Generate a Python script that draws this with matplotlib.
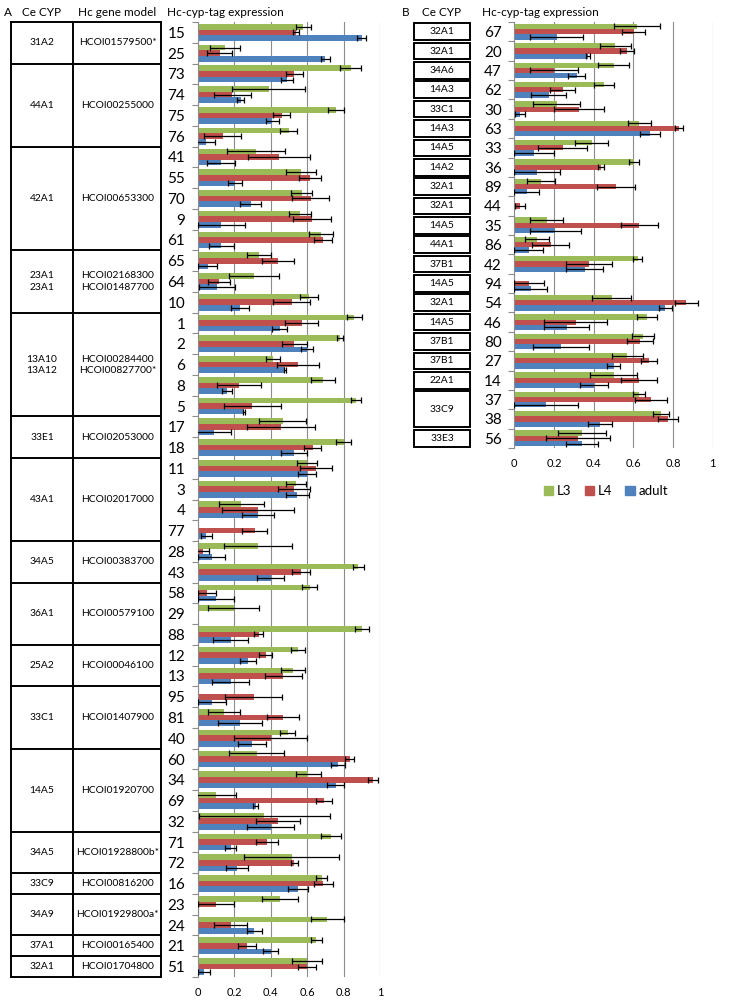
import numpy as np
import matplotlib
matplotlib.use("Agg")
import matplotlib.pyplot as plt
from matplotlib import transforms
from matplotlib.patches import Rectangle, Patch

plt.rcParams['font.family'] = ['Lato', 'DejaVu Sans']

# ---- panel A data ----
tags_a = [15, 25, 73, 74, 75, 76, 41, 55, 70, 9, 61, 65, 64, 10, 1, 2, 6, 8, 5, 17, 18,
          11, 3, 4, 77, 28, 43, 58, 29, 88, 12, 13, 95, 81, 40, 60, 34, 69, 32, 71, 72,
          16, 23, 24, 21, 51]
l3_a = [0.58, 0.15, 0.84, 0.39, 0.76, 0.50, 0.32, 0.567, 0.57, 0.56, 0.675, 0.338, 0.31,
        0.61, 0.86, 0.78, 0.415, 0.687, 0.87, 0.466, 0.80, 0.60, 0.537, 0.24, 0.0, 0.33,
        0.88, 0.614, 0.197, 0.90, 0.55, 0.523, 0.0, 0.144, 0.495, 0.323, 0.607, 0.10,
        0.366, 0.73, 0.515, 0.68, 0.45, 0.71, 0.65, 0.60]
l3_err_a = [0.04, 0.08, 0.057, 0.2, 0.043, 0.046, 0.16, 0.084, 0.056, 0.061, 0.065, 0.066,
            0.136, 0.048, 0.04, 0.015, 0.038, 0.068, 0.027, 0.128, 0.043, 0.055, 0.055,
            0.122, 0.0, 0.186, 0.03, 0.04, 0.14, 0.038, 0.037, 0.066, 0.0, 0.087, 0.041,
            0.152, 0.07, 0.11, 0.357, 0.055, 0.26, 0.03, 0.1, 0.09, 0.03, 0.08]
l4_a = [0.54, 0.12, 0.53, 0.19, 0.46, 0.137, 0.446, 0.616, 0.62, 0.627, 0.686, 0.44, 0.115,
        0.515, 0.57, 0.53, 0.55, 0.228, 0.30, 0.459, 0.63, 0.647, 0.53, 0.33, 0.313, 0.03,
        0.567, 0.05, 0.0, 0.335, 0.373, 0.47, 0.307, 0.47, 0.40, 0.834, 0.96, 0.693, 0.44,
        0.38, 0.53, 0.69, 0.1, 0.18, 0.27, 0.60]
l4_err_a = [0.015, 0.07, 0.048, 0.10, 0.048, 0.10, 0.17, 0.061, 0.10, 0.106, 0.05, 0.09,
            0.06, 0.1, 0.09, 0.07, 0.113, 0.12, 0.155, 0.186, 0.046, 0.087, 0.087, 0.197,
            0.068, 0.032, 0.05, 0.05, 0.0, 0.025, 0.036, 0.10, 0.157, 0.088, 0.20, 0.024,
            0.027, 0.042, 0.12, 0.06, 0.02, 0.05, 0.1, 0.09, 0.05, 0.05]
adult_a = [0.90, 0.70, 0.49, 0.235, 0.41, 0.046, 0.128, 0.205, 0.29, 0.13, 0.13, 0.055,
           0.106, 0.232, 0.45, 0.60, 0.48, 0.16, 0.254, 0.09, 0.53, 0.60, 0.547, 0.33,
           0.046, 0.077, 0.40, 0.10, 0.0, 0.18, 0.276, 0.18, 0.077, 0.232, 0.30, 0.77,
           0.757, 0.318, 0.40, 0.18, 0.215, 0.55, 0.0, 0.31, 0.40, 0.035]
adult_err_a = [0.025, 0.025, 0.033, 0.02, 0.038, 0.05, 0.075, 0.038, 0.058, 0.13, 0.068,
               0.053, 0.10, 0.047, 0.04, 0.035, 0.006, 0.026, 0.005, 0.094, 0.072, 0.048,
               0.062, 0.088, 0.03, 0.075, 0.076, 0.097, 0.0, 0.095, 0.044, 0.099, 0.076,
               0.12, 0.077, 0.038, 0.045, 0.015, 0.13, 0.03, 0.06, 0.055, 0.0, 0.04, 0.04,
               0.035]

cyp_a = ['31A2', '44A1', '42A1', '23A1\n23A1', '13A10\n13A12', '33E1', '43A1', '34A5',
         '36A1', '25A2', '33C1', '14A5', '34A5', '33C9', '34A9', '37A1', '32A1']
gene_a = ['HCOI01579500*', 'HCOI00255000', 'HCOI00653300', 'HCOI02168300\nHCOI01487700',
          'HCOI00284400\nHCOI00827700*', 'HCOI02053000', 'HCOI02017000', 'HCOI00383700',
          'HCOI00579100', 'HCOI00046100', 'HCOI01407900', 'HCOI01920700',
          'HCOI01928800b*', 'HCOI00816200', 'HCOI01929800a*', 'HCOI00165400',
          'HCOI01704800']
group_size_a = [2, 4, 5, 3, 5, 2, 4, 2, 3, 2, 3, 4, 2, 1, 2, 1, 1]

# ---- panel B data ----
tags_b = [67, 20, 47, 62, 30, 63, 33, 36, 89, 44, 35, 86, 42, 94, 54, 46, 80, 27, 14, 37,
          38, 56]
l3_b = [0.617, 0.51, 0.50, 0.45, 0.213, 0.63, 0.39, 0.603, 0.134, 0.0, 0.163, 0.116, 0.622,
        0.0, 0.49, 0.67, 0.65, 0.57, 0.50, 0.63, 0.74, 0.34]
l3_err_b = [0.116, 0.08, 0.08, 0.05, 0.12, 0.057, 0.083, 0.027, 0.072, 0.0, 0.084, 0.06,
            0.024, 0.0, 0.097, 0.05, 0.055, 0.08, 0.12, 0.03, 0.04, 0.12]
l4_b = [0.603, 0.57, 0.20, 0.244, 0.326, 0.832, 0.244, 0.437, 0.513, 0.029, 0.63, 0.183,
        0.376, 0.076, 0.866, 0.31, 0.634, 0.68, 0.63, 0.69, 0.775, 0.32]
l4_err_b = [0.058, 0.035, 0.12, 0.064, 0.124, 0.02, 0.124, 0.017, 0.097, 0.027, 0.092,
            0.092, 0.114, 0.076, 0.058, 0.158, 0.065, 0.04, 0.09, 0.08, 0.05, 0.16]
adult_b = [0.213, 0.37, 0.314, 0.173, 0.028, 0.684, 0.1, 0.116, 0.062, 0.0, 0.207, 0.072,
           0.355, 0.082, 0.76, 0.264, 0.234, 0.50, 0.40, 0.16, 0.43, 0.34]
adult_err_b = [0.133, 0.01, 0.042, 0.087, 0.025, 0.05, 0.1, 0.115, 0.063, 0.0, 0.13, 0.073,
               0.093, 0.083, 0.033, 0.113, 0.14, 0.035, 0.07, 0.16, 0.06, 0.08]

cyp_b = ['32A1', '32A1', '34A6', '14A3', '33C1', '14A3', '14A5', '14A2', '32A1', '32A1',
         '14A5', '44A1', '37B1', '14A5', '32A1', '14A5', '37B1', '37B1', '22A1', '33C9',
         '33E3']
group_size_b = [1] * 19 + [2, 1]

GREEN = '#9BBB59'
RED = '#C0504D'
BLUE = '#4F81BD'
GRID = '#8c8c8c'

W, H = 731, 1001
fig = plt.figure(figsize=(W / 100, H / 100), dpi=100)


def px_axes(x0, y0, x1, y1):
    return fig.add_axes([x0 / W, 1 - y1 / H, (x1 - x0) / W, (y1 - y0) / H])


# pixel coordinates measured from the top-left corner of the figure
pix = transforms.Affine2D().scale(1 / W, -1 / H).translate(0, 1) + fig.transFigure


def draw_panel(ax, tags, series):
    n = len(tags)
    pos = np.arange(n)
    h = 0.27
    for k, (vals, errs, color) in enumerate(series):
        vals = np.asarray(vals)
        errs = np.asarray(errs)
        y = pos + (k - 1) * h
        ax.barh(y, vals, height=h, color=color, zorder=2)
        m = vals > 0
        ax.errorbar(vals[m], y[m], xerr=errs[m], fmt='none', ecolor='black',
                    elinewidth=0.9, capsize=2.2, capthick=0.9, zorder=3)
    ax.set_ylim(n - 0.5, -0.5)
    ax.set_xlim(0, 1)
    ax.set_xticks(np.arange(0, 1.01, 0.2))
    ax.set_xticklabels(['0', '0.2', '0.4', '0.6', '0.8', '1'])
    ax.xaxis.grid(True, color=GRID, linewidth=0.8, zorder=0)
    ax.set_axisbelow(True)
    ax.set_yticks(pos)
    ax.set_yticklabels([str(t) for t in tags], fontsize=11)
    ax.set_yticks(np.arange(-0.5, n, 1), minor=True)
    ax.tick_params(axis='y', which='major', length=0, pad=9)
    ax.tick_params(axis='y', which='minor', length=4, color=GRID, width=0.8)
    ax.tick_params(axis='x', length=0, pad=7, labelsize=8)
    for s in ['top', 'right', 'bottom']:
        ax.spines[s].set_visible(False)
    ax.spines['left'].set_color(GRID)
    ax.spines['left'].set_linewidth(0.8)


axA = px_axes(197.7, 22, 380, 977)
draw_panel(axA, tags_a, [(l3_a, l3_err_a, GREEN), (l4_a, l4_err_a, RED),
                         (adult_a, adult_err_a, BLUE)])

axB = px_axes(514.3, 22, 712.7, 448)
draw_panel(axB, tags_b, [(l3_b, l3_err_b, GREEN), (l4_b, l4_err_b, RED),
                         (adult_b, adult_err_b, BLUE)])

# ---- table A ----
trA = transforms.blended_transform_factory(pix, axA.transData)
lw = 1.4
left, mid, right = 10.5, 73.3, 161
top, bottom = -0.5, len(tags_a) - 0.5
for x in (left, mid, right):
    axA.plot([x, x], [top, bottom], color='black', lw=lw, transform=trA, clip_on=False)
edges = np.concatenate([[0], np.cumsum(group_size_a)]) - 0.5
for e in edges:
    axA.plot([left, right], [e, e], color='black', lw=lw, transform=trA, clip_on=False,
             solid_capstyle='projecting')
for i in range(len(cyp_a)):
    yc = (edges[i] + edges[i + 1]) / 2
    axA.text((left + mid) / 2, yc, cyp_a[i], transform=trA, ha='center', va='center',
             fontsize=7.4, linespacing=1.3)
    axA.text((mid + right) / 2 + 0.5, yc, gene_a[i], transform=trA, ha='center',
             va='center', fontsize=7.4, linespacing=1.3)

# ---- table B ----
trB = transforms.blended_transform_factory(pix, axB.transData)
edges_b = np.concatenate([[0], np.cumsum(group_size_b)]) - 0.5
gap = 0.07
for i in range(len(cyp_b)):
    y0 = edges_b[i] + gap
    y1 = edges_b[i + 1] - gap
    axB.add_patch(Rectangle((414, y0), 56, y1 - y0, transform=trB, fill=False,
                            edgecolor='black', lw=lw, clip_on=False))
    axB.text(442, (y0 + y1) / 2, cyp_b[i], transform=trB, ha='center', va='center',
             fontsize=7.4)

# ---- headers ----
fig.text(4 / W, 1 - 12 / H, 'A', fontsize=8.5, va='center')
fig.text(42 / W, 1 - 12 / H, 'Ce CYP', fontsize=8.5, va='center', ha='center')
fig.text(117 / W, 1 - 12 / H, 'Hc gene model', fontsize=8.5, va='center', ha='center')
fig.text(167 / W, 1 - 12 / H, 'Hc-cyp-tag expression', fontsize=8.5, va='center')
fig.text(402 / W, 1 - 12 / H, 'B', fontsize=8.5, va='center')
fig.text(441 / W, 1 - 12 / H, 'Ce CYP', fontsize=8.5, va='center', ha='center')
fig.text(482 / W, 1 - 12 / H, 'Hc-cyp-tag expression', fontsize=8.5, va='center')

handles = [Patch(color=GREEN), Patch(color=RED), Patch(color=BLUE)]
fig.legend(handles, ['L3', 'L4', 'adult'], loc='center', ncol=3, frameon=False,
           bbox_to_anchor=(606 / W, 1 - 491 / H), handlelength=0.7, handleheight=0.7,
           handletextpad=0.3, columnspacing=1.0, fontsize=9.5)

fig.savefig('out.png', dpi=100)
